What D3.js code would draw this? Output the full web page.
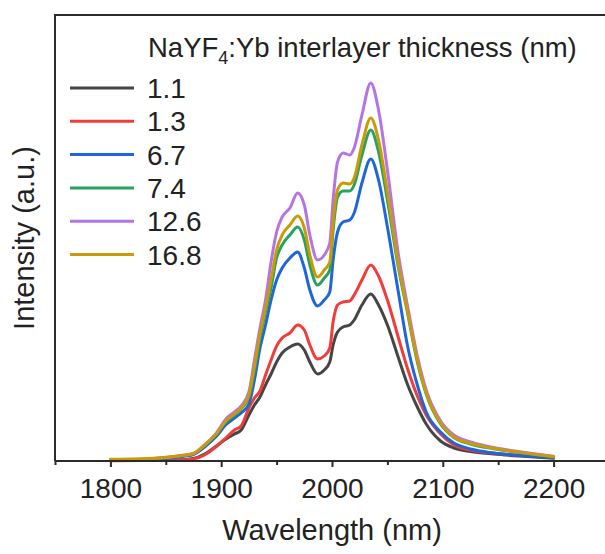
<!DOCTYPE html>
<html>
<head>
<meta charset="utf-8">
<script src="https://cdn.jsdelivr.net/npm/d3@7"></script>
<style>
  html, body { margin: 0; padding: 0; background: #ffffff; }
  svg { display: block; font-family: "Liberation Sans", Arial, sans-serif; }
</style>
</head>
<body>
<svg id="chart" width="605" height="554"></svg>
<script>
// Emission spectra: wavelength grid (nm) and intensity (a.u.) per interlayer thickness
const wavelengths = [1800, 1830, 1850, 1865, 1875, 1885, 1895, 1905, 1912, 1918, 1925, 1930, 1935, 1940, 1945, 1950, 1955, 1962, 1969, 1975, 1980, 1987, 1993, 1998, 2001, 2005, 2010, 2016, 2020, 2027, 2035, 2042, 2050, 2060, 2068, 2077, 2085, 2098, 2110, 2125, 2146, 2176, 2200];

const thicknessLabels = ["1.1", "1.3", "6.7", "7.4", "12.6", "16.8"];
const seriesColors = ["#454545", "#f23c3c", "#1f66d8", "#27a35f", "#b574e4", "#cc9a08"];

const intensity_1_1 = [0.5, 0.7, 1, 1.3, 2.5, 7, 14.5, 22.5, 27, 31, 46, 56, 64, 76, 87, 99, 108, 114, 117, 111, 99, 87, 91, 99, 116, 129, 134, 136, 141, 156, 167, 156, 136, 103, 77, 54, 37, 20, 13, 9.5, 7, 4.5, 2.7];
const intensity_1_3 = [0.2, 0.4, 0.7, 1, 2, 6, 14, 24, 31, 35, 53, 63, 70, 86, 101, 115, 123, 128, 136, 131, 116, 102, 105, 113, 139, 156, 159, 160, 166, 181, 196, 185, 161, 123, 93, 65, 46, 27, 16, 11, 7.7, 5.2, 3.7];
const intensity_6_7 = [1, 1.5, 2.7, 4.5, 6.5, 14, 24, 37, 43, 48, 57, 81, 113, 136, 161, 181, 193, 203, 209, 193, 171, 155, 161, 169, 201, 229, 239, 241, 248, 278, 302, 281, 234, 168, 116, 76, 49, 29, 18, 12, 8, 5, 3.5];
const intensity_7_4 = [1.3, 1.8, 3.2, 5.2, 7.2, 15.5, 26, 40, 46, 52, 64, 91, 123, 149, 173, 203, 216, 226, 234, 221, 196, 176, 183, 191, 231, 264, 270, 270, 276, 306, 331, 309, 261, 193, 149, 99, 67, 37, 23.5, 17, 12.2, 7.4, 4.1];
const intensity_12_6 = [1.5, 2, 3.5, 5.5, 7.5, 16, 27, 43, 49, 55, 69, 101, 133, 161, 199, 229, 244, 253, 268, 256, 226, 201, 206, 218, 261, 299, 308, 306, 313, 346, 378, 351, 291, 206, 156, 105, 71, 40, 26, 19, 13.5, 8.2, 4.7];
const intensity_16_8 = [1.7, 2.2, 3.7, 5.7, 7.7, 16, 26.5, 41, 47, 53, 66, 95, 127, 153, 181, 211, 226, 236, 245, 233, 206, 184, 191, 199, 239, 271, 278, 277, 283, 316, 343, 321, 269, 196, 151, 101, 68, 38, 24, 17.7, 12.7, 7.7, 4.3];

const seriesValues = [intensity_1_1, intensity_1_3, intensity_6_7, intensity_7_4, intensity_12_6, intensity_16_8];

const xMajorTicks = [1800, 1900, 2000, 2100, 2200];
const xMinorTicks = [1750, 1850, 1950, 2050, 2150, 2250];

const xDomain = [1750, 2250];
const yDomain = [0, 446];

const svg = d3.select("#chart");
const W = 605, H = 554;
const plotLeft = 55, plotTop = 15, plotBottom = 461, plotRight = 609;
const ink = "#222";

svg.append("rect").attr("width", W).attr("height", H).attr("fill", "#ffffff");

const x = d3.scaleLinear().domain(xDomain).range([plotLeft, plotRight]);
const y = d3.scaleLinear().domain(yDomain).range([plotBottom, plotTop]);

// frame: top and left edges
svg.append("path")
  .attr("d", `M${plotRight + 5},${plotTop}H${plotLeft}V${plotBottom}`)
  .attr("fill", "none").attr("stroke", "#2b2b2b").attr("stroke-width", 2);

// spectra
const line = d3.line()
  .x((d, i) => x(wavelengths[i]))
  .y(d => y(d))
  .curve(d3.curveMonotoneX);

const gLines = svg.append("g");
seriesValues.forEach((vals, k) => {
  gLines.append("path")
    .datum(vals)
    .attr("d", line)
    .attr("fill", "none")
    .attr("stroke", seriesColors[k])
    .attr("stroke-width", 3)
    .attr("stroke-linejoin", "round")
    .attr("stroke-linecap", "round");
});

// x axis
const xAxis = d3.axisBottom(x)
  .tickValues(xMajorTicks)
  .tickFormat(d3.format("d"))
  .tickSizeInner(6).tickSizeOuter(0).tickPadding(11);
const gx = svg.append("g").attr("transform", `translate(0,${plotBottom})`).call(xAxis);
gx.select(".domain").attr("stroke", "#2b2b2b").attr("stroke-width", 2)
  .attr("d", `M${plotLeft},0H${plotRight + 5}`);
gx.selectAll(".tick line").attr("stroke", "#2b2b2b").attr("stroke-width", 2);
gx.selectAll(".tick text")
  .attr("font-family", "'Liberation Sans', Arial, sans-serif")
  .attr("font-size", 28).attr("fill", ink);

const xMinor = d3.axisBottom(x).tickValues(xMinorTicks).tickSize(4).tickFormat("");
const gxm = svg.append("g").attr("transform", `translate(0,${plotBottom})`).call(xMinor);
gxm.select(".domain").remove();
gxm.selectAll(".tick line").attr("stroke", "#2b2b2b").attr("stroke-width", 2);

// axis titles
svg.append("text")
  .attr("x", (plotLeft + plotRight) / 2).attr("y", 540)
  .attr("text-anchor", "middle")
  .attr("font-size", 29).attr("fill", ink)
  .text("Wavelength (nm)");

svg.append("text")
  .attr("transform", `translate(34,${(plotTop + plotBottom) / 2}) rotate(-90)`)
  .attr("text-anchor", "middle")
  .attr("font-size", 29).attr("fill", ink)
  .text("Intensity (a.u.)");

// legend
const legendTitle = svg.append("text")
  .attr("x", 148).attr("y", 56.5)
  .attr("font-size", 27.5).attr("fill", ink);
legendTitle.append("tspan").text("NaYF");
legendTitle.append("tspan").attr("font-size", 18).attr("dy", 7).text("4");
legendTitle.append("tspan").attr("dy", -7).text(":Yb interlayer thickness (nm)");

const legendRows = d3.range(thicknessLabels.length);
const gLeg = svg.append("g");
legendRows.forEach(i => {
  const cy = 88 + i * 33.3;
  gLeg.append("line")
    .attr("x1", 70).attr("x2", 134).attr("y1", cy).attr("y2", cy)
    .attr("stroke", seriesColors[i]).attr("stroke-width", 3);
  gLeg.append("text")
    .attr("x", 147).attr("y", cy + 10)
    .attr("font-size", 28).attr("fill", ink)
    .text(thicknessLabels[i]);
});
</script>
</body>
</html>
